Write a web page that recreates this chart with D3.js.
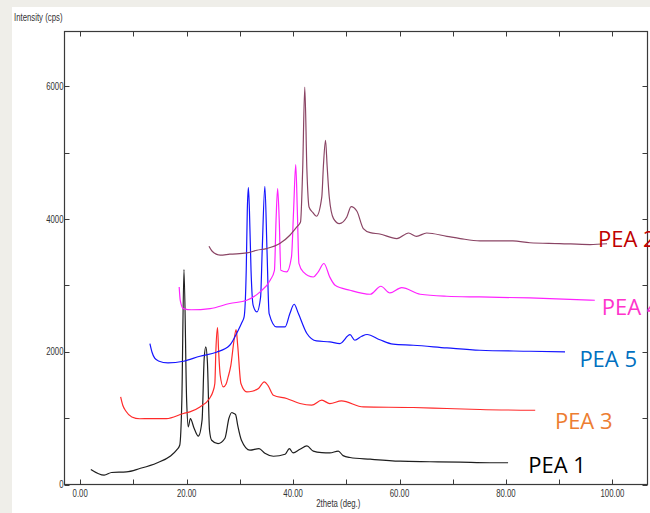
<!DOCTYPE html>
<html>
<head>
<meta charset="utf-8">
<script src="https://cdn.jsdelivr.net/npm/d3@7"></script>
<style>
  body { margin: 0; background: #fff; }
  .tick-label { font-family: "Liberation Sans", Arial, sans-serif; font-size: 10px; fill: #333; }
  .series-label { font-family: "Open Sans", sans-serif; font-size: 22px; }
</style>
</head>
<body>
<div id="xrd"></div>
<script>
// scan data: [2theta (deg.), intensity (cps)]
var pea1 = [[2.0,226],[4.5,140],[5.9,181],[8.7,190],[11.2,241],[14.4,325],[16.9,426],[18.1,517],[18.7,592],
  [19.1,1270],[19.5,3239],[20.0,1270],[20.3,868],[20.7,994],[21.4,848],[22.2,728],[22.9,969],[23.3,1900],
  [23.6,2073],[23.9,1850],[24.3,818],[24.7,667],[25.9,615],[27.2,697],[27.95,999],[28.5,1085],[28.8,1074],
  [29.2,1054],[29.6,890],[30.3,667],[31.9,517],[33.6,542],[34.7,470],[36.3,426],[38.5,456],[39.3,542],
  [40.0,476],[41.3,530],[42.6,581],[43.8,502],[45.4,480],[46.9,476],[48.5,502],[49.4,435],[50.7,407],
  [54.5,381],[60.1,351],[65.7,343],[71.4,336],[77.0,328],[80.4,328]];

var pea3 = [[7.6,1320],[8.0,1195],[8.6,1104],[9.7,1018],[11.2,991],[13.1,994],[16.2,994],[19.4,1070],
  [20.6,1094],[22.5,1169],[24.3,1296],[24.9,1390],[25.3,1522],[25.5,2030],[25.8,2365],[26.0,2030],
  [26.3,1650],[26.9,1470],[27.4,1510],[27.8,1621],[28.3,1790],[28.9,2170],[29.3,2335],[29.6,2090],
  [30.2,1522],[31.3,1395],[32.3,1405],[33.5,1446],[34.6,1546],[35.3,1490],[36.3,1345],[38.8,1296],
  [41.3,1220],[43.5,1195],[45.4,1270],[46.9,1220],[49.1,1259],[53.2,1169],[62.6,1160],[68.9,1145],
  [75.1,1130],[85.5,1119]];

var pea5 = [[13.1,2124],[13.5,1993],[14.0,1903],[14.7,1862],[16.5,1832],[19.4,1857],[22.5,1933],[25.6,1993],
  [28.1,2098],[29.7,2325],[30.4,2445],[30.8,2525],[31.2,3230],[31.4,4130],[31.6,4474],[31.8,4130],
  [32.1,3230],[32.5,2700],[33.2,2600],[33.9,2826],[34.2,3530],[34.7,4494],[35.1,3530],[35.5,2576],
  [36.9,2374],[38.5,2374],[39.4,2576],[40.2,2716],[41.0,2576],[42.6,2275],[44.4,2163],[46.9,2148],
  [48.8,2124],[50.7,2257],[51.6,2174],[52.9,2234],[53.9,2260],[56.3,2181],[58.8,2114],[62.6,2098],
  [68.9,2058],[75.1,2023],[84.5,2008],[91.1,1998]];

var pea4 = [[18.6,2977],[18.8,2776],[19.4,2651],[20.9,2633],[24.4,2651],[28.1,2727],[31.3,2776],[33.8,2902],
  [35.7,3078],[36.5,3228],[36.8,3980],[37.1,4459],[37.4,3980],[37.7,3228],[38.8,3203],[39.7,3429],
  [40.1,4130],[40.5,4821],[40.8,4130],[41.1,3332],[41.9,3203],[43.8,3127],[44.7,3200],[45.8,3330],
  [46.9,3125],[47.9,3002],[50.7,2927],[54.5,2867],[56.5,2987],[58.2,2886],[60.4,2967],[63.9,2867],
  [68.9,2837],[75.1,2826],[84.5,2811],[96.7,2776]];

var pea2 = [[24.2,3590],[24.8,3515],[26.3,3455],[28.1,3470],[31.3,3489],[33.2,3530],[35.0,3555],[37.5,3631],
  [39.4,3756],[40.7,3881],[41.4,3956],[41.8,4735],[42.2,5990],[42.6,4735],[43.0,4182],[43.7,4100],
  [44.4,4042],[45.4,4333],[45.7,4800],[46.1,5187],[46.4,4800],[46.8,4333],[47.6,4007],[48.7,3932],
  [50.1,4031],[50.9,4188],[52.0,4117],[53.2,3857],[54.5,3795],[56.3,3775],[59.5,3706],[61.7,3790],
  [63.2,3740],[65.1,3790],[68.9,3740],[71.4,3706],[75.1,3670],[81.3,3670],[84.5,3643],[90.1,3631],
  [95.8,3616],[99.0,3628]];

var seriesNames = ["PEA 1", "PEA 3", "PEA 5", "PEA 4", "PEA 2"];
var seriesData = [pea1, pea3, pea5, pea4, pea2];
var lineColors = ["#1e1e1e", "#ff2a2a", "#1414ff", "#ff22ff", "#8a4464"];
var labelColors = ["#000000", "#ed7d31", "#0070c0", "#ff33cc", "#c00000"];
// where each name sits, in chart units [2theta, cps]
var labelAt = [[84.2,166],[89.2,829],[93.8,1772],[98.0,2561],[97.3,3580]];

var xMajor = [0, 20, 40, 60, 80, 100];
var xAllTicks = [0, 10, 20, 30, 40, 50, 60, 70, 80, 90, 100];
var yMajor = [0, 2000, 4000, 6000];
var yAllTicks = [0, 1000, 2000, 3000, 4000, 5000, 6000];

var W = 650, H = 513;
var plot = {left: 64.5, top: 31.5, right: 647.5, bottom: 484.5};
var squeeze = 0.78; // the instrument font is a narrow one

var svg = d3.select("#xrd")
  .append("svg")
    .attr("width", W)
    .attr("height", H);

// window chrome
svg.append("rect").attr("width", W).attr("height", H).attr("fill", "#efeee9");
svg.append("rect")
  .attr("x", 12).attr("y", 7)
  .attr("width", W - 12).attr("height", H - 7)
  .attr("fill", "#ffffff");

var x = d3.scaleLinear()
  .domain([-2.95, 106.6])
  .range([plot.left, plot.right]);

var y = d3.scaleLinear()
  .domain([0, 6826])
  .range([plot.bottom, plot.top]);

// frame
svg.append("rect")
  .attr("x", plot.left).attr("y", plot.top)
  .attr("width", plot.right - plot.left)
  .attr("height", plot.bottom - plot.top)
  .attr("fill", "none")
  .attr("stroke", "#3a3a3a")
  .attr("stroke-width", 1.2);

// ticks all point inward
var tickLen = 5;
var ticks = svg.append("g").attr("stroke", "#3a3a3a").attr("stroke-width", 1);
xAllTicks.forEach(function(t) {
  var px = Math.round(x(t)) + 0.5;
  ticks.append("line").attr("x1", px).attr("x2", px).attr("y1", plot.bottom).attr("y2", plot.bottom - tickLen);
  ticks.append("line").attr("x1", px).attr("x2", px).attr("y1", plot.top).attr("y2", plot.top + tickLen);
});
yAllTicks.forEach(function(t) {
  var py = Math.round(y(t)) + 0.5;
  ticks.append("line").attr("y1", py).attr("y2", py).attr("x1", plot.left).attr("x2", plot.left + tickLen);
  ticks.append("line").attr("y1", py).attr("y2", py).attr("x1", plot.right).attr("x2", plot.right - tickLen);
});

function narrowText(g, px, py, anchor, txt) {
  g.append("text")
    .attr("class", "tick-label")
    .attr("transform", "translate(" + px + "," + py + ") scale(" + squeeze + ",1)")
    .attr("text-anchor", anchor)
    .text(txt);
}

var labels = svg.append("g");
xMajor.forEach(function(d) {
  narrowText(labels, x(d), plot.bottom + 12, "middle", d3.format(".2f")(d));
});
yMajor.forEach(function(d) {
  narrowText(labels, plot.left - 1, y(d) + 3.5, "end", d);
});
narrowText(labels, 14, 21, "start", "Intensity (cps)");
narrowText(labels, x(48.5), plot.bottom + 22.5, "middle", "2theta (deg.)");

// scans
var line = d3.line()
  .curve(d3.curveMonotoneX)
  .x(function(d) { return x(d[0]); })
  .y(function(d) { return y(d[1]); });

svg.append("g").selectAll("path")
  .data(seriesData)
  .enter()
  .append("path")
    .attr("d", line)
    .attr("fill", "none")
    .attr("stroke", function(d, i) { return lineColors[i]; })
    .attr("stroke-width", 1.2)
    .attr("stroke-linejoin", "round");

svg.append("g").selectAll("text")
  .data(seriesNames)
  .enter()
  .append("text")
    .attr("class", "series-label")
    .attr("x", function(d, i) { return x(labelAt[i][0]); })
    .attr("y", function(d, i) { return y(labelAt[i][1]); })
    .attr("fill", function(d, i) { return labelColors[i]; })
    .text(function(d) { return d; });
</script>
</body>
</html>
